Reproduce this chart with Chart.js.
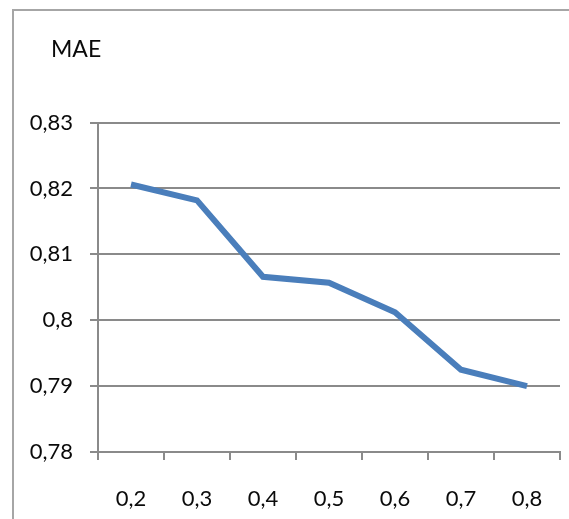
<!DOCTYPE html>
<html>
<head>
<meta charset="utf-8">
<script src="https://cdn.jsdelivr.net/npm/chart.js@4"></script>
<style>
  body { margin: 0; background: #fff; }
  #marco { position: absolute; left: 12px; top: 9px; width: 600px; height: 600px;
           border-left: 2px solid #a6a6a6; border-top: 2px solid #a6a6a6; }
  #grafica { position: absolute; left: 0; top: 0; }
</style>
</head>
<body>
<div id="marco"></div>
<canvas id="grafica" width="569" height="519"></canvas>
<script>
// datos de la grafica
let categorias = ['0,2', '0,3', '0,4', '0,5', '0,6', '0,7', '0,8'];
let valoresMAE = [0.8206, 0.8182, 0.8066, 0.8057, 0.8012, 0.7925, 0.7900];
let etiquetasY = ['0,78', '0,79', '0,8', '0,81', '0,82', '0,83'];
let minY = 0.78;
let maxY = 0.83;

const fuente = { family: 'Lato, "Open Sans", sans-serif', size: 22 };
const gris = '#8a8a8a';

// mover el titulo a la derecha (el padding del titulo solo es vertical)
const moverTitulo = {
    id: 'moverTitulo',
    afterLayout: function (chart) {
        if (chart.titleBlock) {
            chart.titleBlock.left = 51;
        }
    }
};

const config = {
    type: 'line',
    data: {
        labels: categorias,
        datasets: [{
            data: valoresMAE,
            borderColor: '#4a7ebb',
            backgroundColor: '#4a7ebb',
            borderWidth: 6,
            pointRadius: 0,
            tension: 0
        }]
    },
    options: {
        responsive: false,
        animation: false,
        layout: { padding: { left: 0, right: 9, top: 0, bottom: 0 } },
        plugins: {
            legend: { display: false },
            tooltip: { enabled: false },
            title: {
                display: true,
                text: 'MAE',
                align: 'start',
                color: '#0a0a0a',
                font: { family: fuente.family, size: 23, weight: 'normal' },
                padding: { top: 36, bottom: 59 }
            }
        },
        scales: {
            x: {
                offset: true,
                grid: { offset: true, drawOnChartArea: false, tickLength: 8, color: gris, lineWidth: 2 },
                border: { color: gris, width: 2 },
                ticks: { color: '#0a0a0a', font: fuente, padding: 26 },
                afterFit: function (escala) { escala.height = 67; }
            },
            y: {
                min: minY,
                max: maxY,
                grid: { tickLength: 8, color: gris, lineWidth: 2 },
                border: { color: gris, width: 2 },
                ticks: {
                    stepSize: 0.01,
                    color: '#0a0a0a',
                    font: fuente,
                    padding: 17,
                    callback: function (valor, indice) { return etiquetasY[indice]; }
                },
                afterFit: function (escala) { escala.width = 98; }
            }
        }
    },
    plugins: [moverTitulo]
};

const miGrafica = new Chart(document.getElementById('grafica'), config);
</script>
</body>
</html>
